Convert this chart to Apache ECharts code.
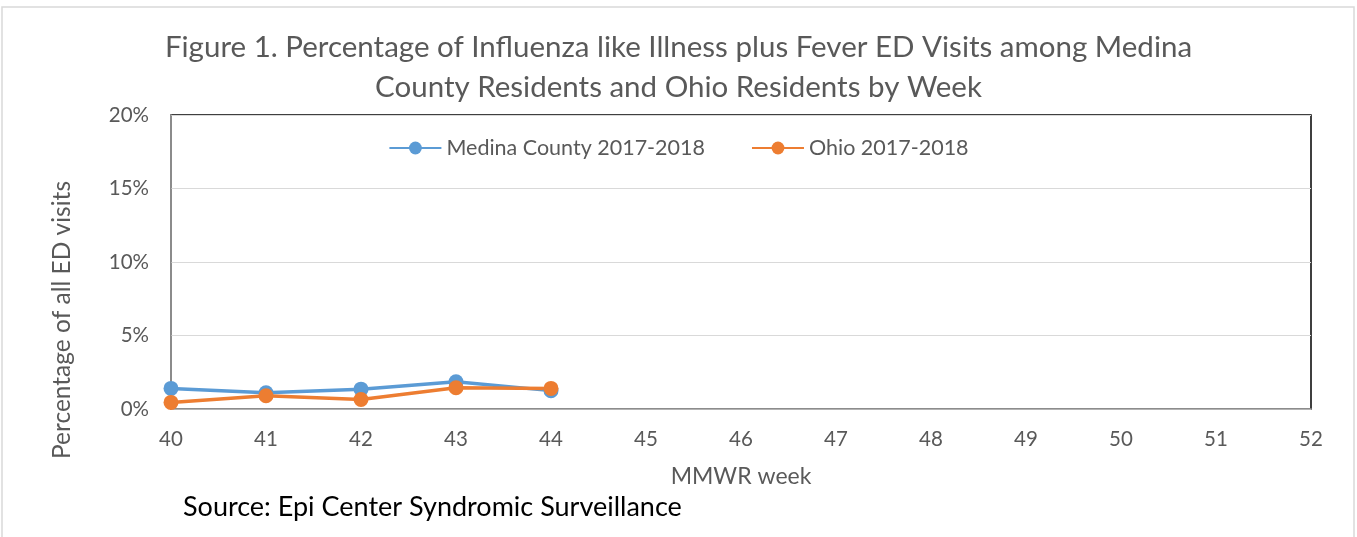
<!DOCTYPE html>
<html>
<head>
<meta charset="utf-8">
<script src="https://cdn.jsdelivr.net/npm/echarts@6/dist/echarts.min.js"></script>
<style>
html,body{margin:0;padding:0;background:#fff;}
#c{width:1357px;height:537px;}
</style>
</head>
<body>
<div id="c"></div>
<script>
const weeks = [40, 41, 42, 43, 44];
const medina = [1.4, 1.1, 1.35, 1.85, 1.25];
const ohio = [0.45, 0.9, 0.65, 1.45, 1.4];
const seriesNames = ['Medina County 2017-2018', 'Ohio 2017-2018'];
const titleText = 'Figure 1. Percentage of Influenza like Illness plus Fever ED Visits among Medina\nCounty Residents and Ohio Residents by Week';

const FONT = 'Lato, "Open Sans", sans-serif';
const chart = echarts.init(document.getElementById('c'), null, {renderer: 'canvas'});
chart.setOption({
  animation: false,
  backgroundColor: '#fff',
  title: {
    text: titleText,
    left: 'center',
    top: 22,
    textStyle: {fontFamily: FONT, fontSize: 29.5, fontWeight: 'normal', color: '#595959', lineHeight: 40, align: 'center'}
  },
  legend: {
    top: 132,
    left: 'center',
    itemWidth: 52,
    itemHeight: 16,
    itemGap: 46,
    textStyle: {fontFamily: FONT, fontSize: 21.5, color: '#595959'},
    data: seriesNames
  },
  grid: {
    left: 171, right: 46, top: 115, bottom: 128,
    show: true, borderColor: '#000', borderWidth: 1.5, backgroundColor: 'transparent'
  },
  xAxis: {
    type: 'value', min: 40, max: 52, interval: 1,
    name: 'MMWR week', nameLocation: 'middle', nameGap: 56,
    nameTextStyle: {fontFamily: FONT, fontSize: 23, color: '#595959'},
    axisLine: {show: true, lineStyle: {color: '#a6a6a6', width: 1.5}},
    axisTick: {show: false},
    splitLine: {show: false},
    axisLabel: {fontFamily: FONT, fontSize: 20.5, color: '#595959', margin: 20}
  },
  yAxis: {
    type: 'value', min: 0, max: 20, interval: 5,
    axisLine: {show: true, lineStyle: {color: '#a6a6a6', width: 1.5}},
    axisTick: {show: false},
    splitLine: {show: true, lineStyle: {color: '#d9d9d9', width: 1}},
    axisLabel: {fontFamily: FONT, fontSize: 20.5, color: '#595959', margin: 22, formatter: '{value}%'}
  },
  graphic: [
    {type: 'rect', shape: {x: 2, y: 7, width: 1352, height: 540}, style: {fill: 'none', stroke: '#d9d9d9', lineWidth: 1.5}, silent: true},
    {type: 'text', x: 62, y: 320, rotation: Math.PI / 2,
      style: {text: 'Percentage of all ED visits', fontFamily: FONT, fontSize: 24.5, fill: '#595959', align: 'center', verticalAlign: 'middle'}},
    {type: 'text', x: 183, y: 507,
      style: {text: 'Source: Epi Center Syndromic Surveillance', fontFamily: FONT, fontSize: 27, fill: '#000', align: 'left', verticalAlign: 'middle'}}
  ],
  series: [
    {name: seriesNames[0], type: 'line', data: weeks.map((w, i) => [w, medina[i]]),
      symbol: 'circle', symbolSize: 15, lineStyle: {color: '#5b9bd5', width: 3.5}, itemStyle: {color: '#5b9bd5'}},
    {name: seriesNames[1], type: 'line', data: weeks.map((w, i) => [w, ohio[i]]),
      symbol: 'circle', symbolSize: 15, lineStyle: {color: '#ed7d31', width: 3.5}, itemStyle: {color: '#ed7d31'}}
  ]
});
</script>
</body>
</html>
